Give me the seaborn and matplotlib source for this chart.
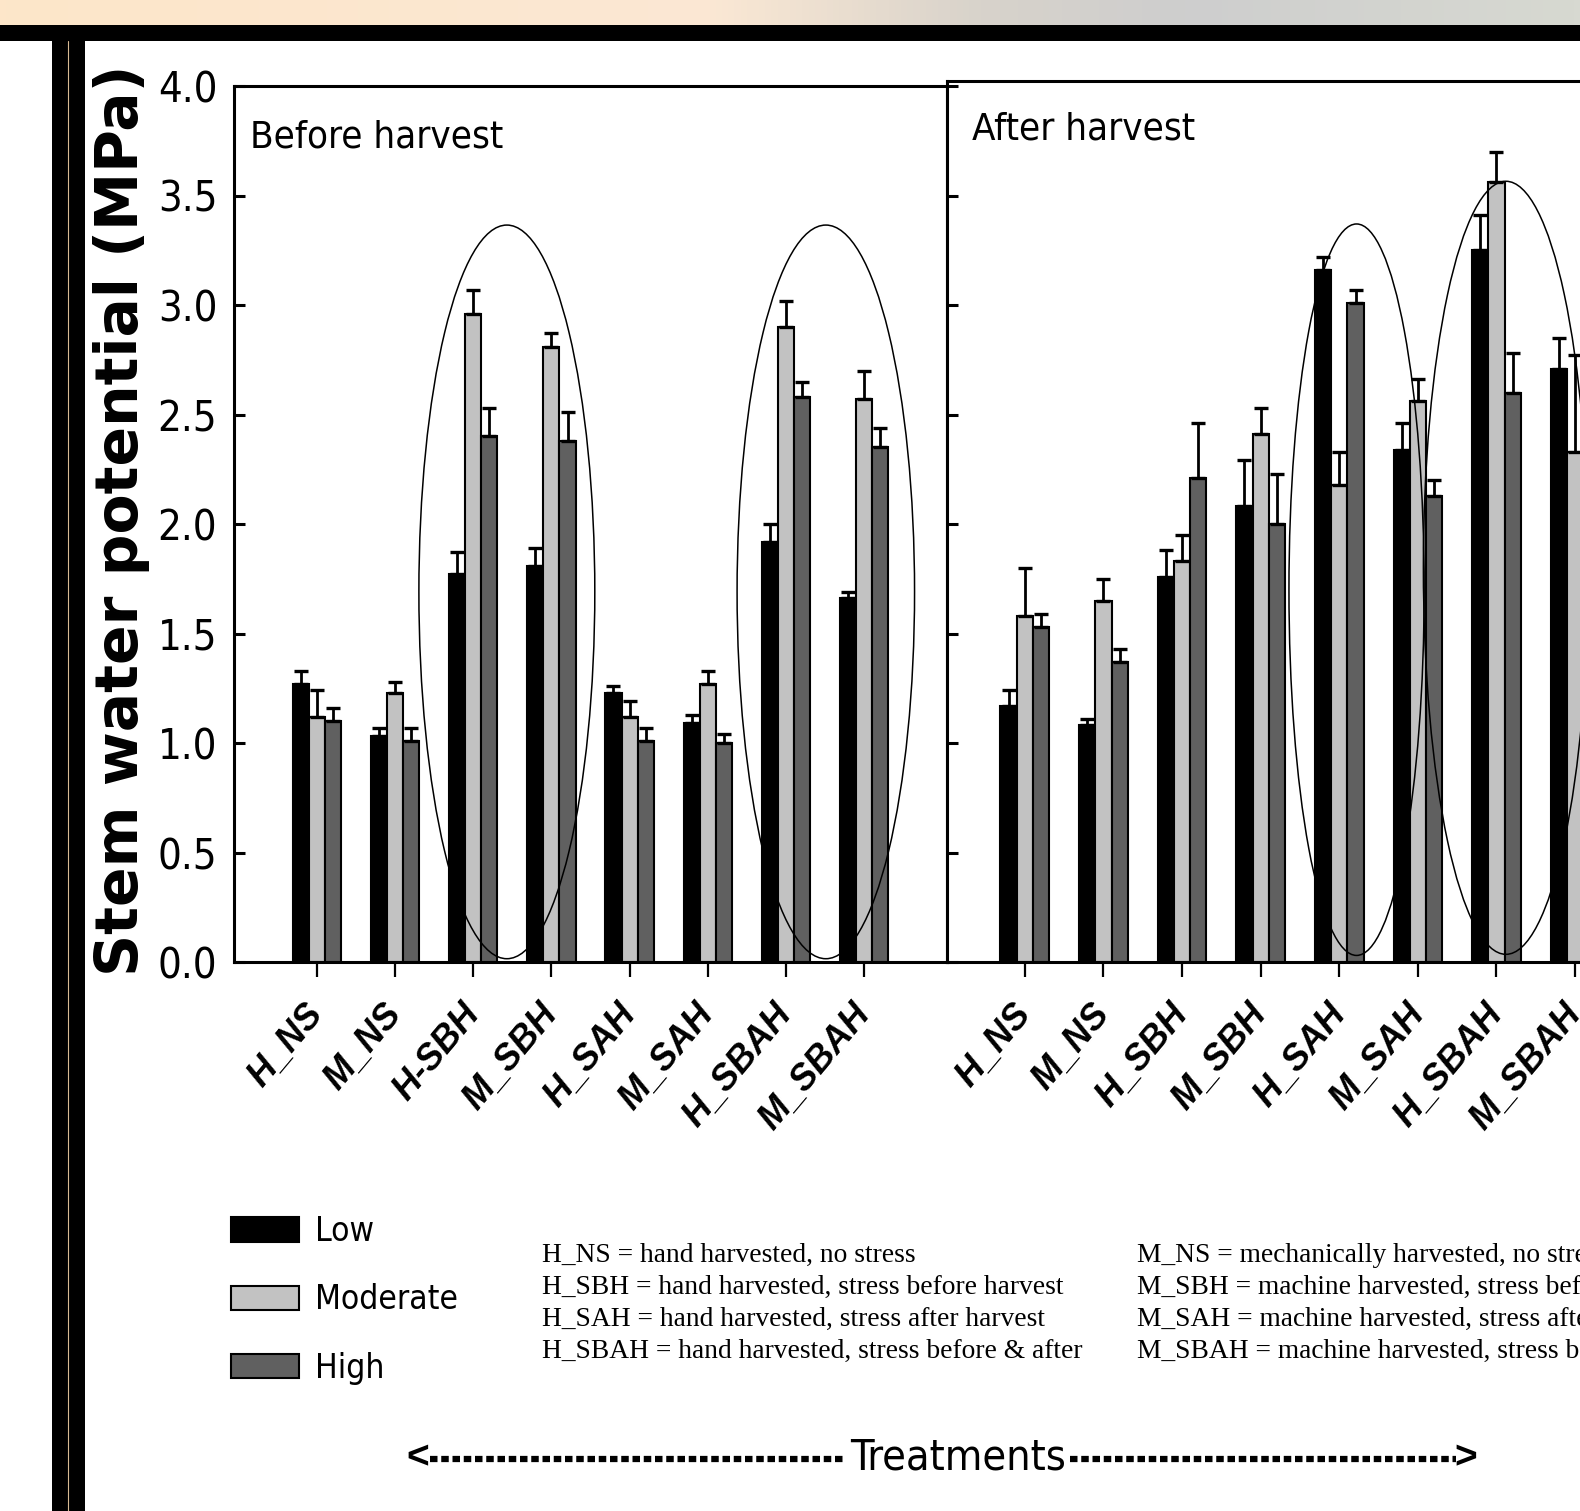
import numpy as np
import pandas as pd
import matplotlib
matplotlib.use('Agg')
import matplotlib.pyplot as plt
import seaborn as sns
from matplotlib import font_manager
from matplotlib.patches import Ellipse, Rectangle
from matplotlib.lines import Line2D
from matplotlib.colors import LinearSegmentedColormap

# ---- data (MPa) ----
treat_before = ['H_NS', 'M_NS', 'H-SBH', 'M_SBH', 'H_SAH', 'M_SAH', 'H_SBAH', 'M_SBAH']
treat_after = ['H_NS', 'M_NS', 'H_SBH', 'M_SBH', 'H_SAH', 'M_SAH', 'H_SBAH', 'M_SBAH']
levels = ['Low', 'Moderate', 'High']

before_low = [1.27, 1.03, 1.77, 1.81, 1.23, 1.09, 1.92, 1.66]
before_mod = [1.12, 1.23, 2.96, 2.81, 1.12, 1.27, 2.90, 2.57]
before_high = [1.10, 1.01, 2.40, 2.38, 1.01, 1.00, 2.58, 2.35]
before_low_err = [0.06, 0.04, 0.10, 0.08, 0.03, 0.04, 0.08, 0.03]
before_mod_err = [0.12, 0.05, 0.11, 0.06, 0.07, 0.06, 0.12, 0.13]
before_high_err = [0.06, 0.06, 0.13, 0.13, 0.06, 0.04, 0.07, 0.09]

after_low = [1.17, 1.08, 1.76, 2.08, 3.16, 2.34, 3.25, 2.71]
after_mod = [1.58, 1.65, 1.83, 2.41, 2.18, 2.56, 3.56, 2.33]
after_high = [1.53, 1.37, 2.21, 2.00, 3.01, 2.13, 2.60, 2.30]
after_low_err = [0.07, 0.03, 0.12, 0.21, 0.06, 0.12, 0.16, 0.14]
after_mod_err = [0.22, 0.10, 0.12, 0.12, 0.15, 0.10, 0.14, 0.44]
after_high_err = [0.06, 0.06, 0.25, 0.23, 0.06, 0.07, 0.18, 0.10]

# circled groups: (x centre, y centre, width, height) in data units
circles_before = [(2.43, 1.69, 2.25, 3.35), (6.51, 1.69, 2.27, 3.35)]
circles_after = [(4.22, 1.70, 1.72, 3.34), (6.12, 1.80, 2.10, 3.53)]

legend_defs_left = ['H_NS = hand harvested, no stress',
                    'H_SBH = hand harvested, stress before harvest',
                    'H_SAH = hand harvested, stress after harvest',
                    'H_SBAH = hand harvested, stress before & after']
legend_defs_right = ['M_NS = mechanically harvested, no stress',
                     'M_SBH = machine harvested, stress before harvest',
                     'M_SAH = machine harvested, stress after harvest',
                     'M_SBAH = machine harvested, stress before & after']

palette = {'Low': '#000000', 'Moderate': '#c2c2c2', 'High': '#606060'}

sns.set_theme(style='white')
plt.rcParams['font.family'] = ['Liberation Sans', 'DejaVu Sans']
plt.rcParams.update({'text.color': 'black', 'axes.labelcolor': 'black',
                     'xtick.color': 'black', 'ytick.color': 'black'})

names = {f.name for f in font_manager.fontManager.ttflist}
NARROW = 'Liberation Sans Narrow' if 'Liberation Sans Narrow' in names else 'DejaVu Sans'
STRETCH = 'normal' if NARROW == 'Liberation Sans Narrow' else 'condensed'

W, H = 1580, 1511
def fx(px):
    return px / W
def fy(py):
    return 1 - py / H

fig = plt.figure(figsize=(W / 100, H / 100), dpi=100)
fig.patch.set_facecolor('white')

# slide frame decoration
bg = fig.add_axes([0, fy(25), 1, 25 / H])
strip = LinearSegmentedColormap.from_list('strip', [(0, '#fde6c9'), (0.45, '#fbe8d4'),
                                                    (0.62, '#d8d3cb'), (0.75, '#cecece'),
                                                    (1, '#d7d9d1')])
bg.imshow(np.linspace(0, 1, 512)[None, :], aspect='auto', cmap=strip, extent=[0, 1, 0, 1])
bg.axis('off')
fig.patches.append(Rectangle((0, fy(41)), 1, 16 / H, transform=fig.transFigure,
                             fc='black', ec='none'))
fig.patches.append(Rectangle((fx(52), 0), 33 / W, fy(25), transform=fig.transFigure,
                             fc='black', ec='none'))
fig.add_artist(Line2D([fx(68), fx(68)], [0, fy(41)], transform=fig.transFigure,
                      color='#d9bb94', lw=0.8))

ax1 = fig.add_axes([fx(234), fy(962), 713 / W, 876 / H])
ax2 = fig.add_axes([fx(947), fy(962), 713 / W, 881 / H])

panels = [
    (ax1, treat_before, [before_low, before_mod, before_high],
     [before_low_err, before_mod_err, before_high_err], circles_before, (-1.06, 8.06), 4.0),
    (ax2, treat_after, [after_low, after_mod, after_high],
     [after_low_err, after_mod_err, after_high_err], circles_after, (-0.99, 8.08), 4.0 * 881 / 876),
]

for ax, treats, vals, errs, circles, xlim, ytop in panels:
    df = pd.DataFrame({
        'treatment': treats * 3,
        'level': [lv for lv in levels for _ in treats],
        'value': vals[0] + vals[1] + vals[2],
    })
    sns.barplot(data=df, x='treatment', y='value', hue='level', order=treats,
                hue_order=levels, palette=palette, saturation=1, width=0.62,
                edgecolor='black', linewidth=1.5, errorbar=None, legend=False, ax=ax)
    for cont, err in zip(ax.containers, errs):
        xs = [b.get_x() + b.get_width() / 2 for b in cont]
        ys = [b.get_height() for b in cont]
        ax.errorbar(xs, ys, yerr=[np.zeros(len(err)), err], fmt='none', ecolor='black',
                    elinewidth=2, capsize=5, capthick=2.4, zorder=4)
    for cx, cy, w, h in circles:
        ax.add_patch(Ellipse((cx, cy), w, h, fill=False, ec='black', lw=1.1, zorder=5))
    ax.set_xlim(*xlim)
    ax.set_ylim(0, ytop)
    ax.set_xlabel('')
    ax.set_ylabel('')
    ax.set_xticks(range(len(treats)))
    ax.set_xticklabels(treats, rotation=50, ha='right', va='center', rotation_mode='anchor',
                       fontsize=26, fontweight='bold', fontstyle='italic', color='black')
    ax.tick_params(axis='x', direction='out', length=11, width=1.6, pad=22, bottom=True)
    ax.set_yticks(np.arange(0, 4.01, 0.5))
    ax.tick_params(axis='y', direction='in', length=8, width=2.2, left=True)
    for s in ax.spines.values():
        s.set_visible(True)
        s.set_color('black')
        s.set_linewidth(2.2)

ax1.set_yticklabels([f'{v:.1f}' for v in np.arange(0, 4.01, 0.5)], fontfamily=NARROW,
                    fontstretch=STRETCH, fontsize=30, color='black')
ax1.tick_params(axis='y', pad=12)
ax2.tick_params(axis='y', labelleft=False)

fig.text(fx(121), fy(520), 'Stem water potential (MPa)', rotation=90, ha='center',
         va='center', fontsize=42, fontweight='bold', family='DejaVu Sans', color='black')
fig.text(fx(250), fy(138), 'Before harvest', fontsize=27.5, family=NARROW,
         fontstretch=STRETCH, va='center', color='black')
fig.text(fx(972), fy(129), 'After harvest', fontsize=27.5, family=NARROW,
         fontstretch=STRETCH, va='center', color='black')

handles = [c[0] for c in ax1.containers]
leg = fig.legend(handles, levels, loc='upper left', bbox_to_anchor=(fx(231), fy(1215)),
                 frameon=False, borderpad=0, borderaxespad=0, handlelength=2.04,
                 handleheight=0.75, handletextpad=0.48, labelspacing=1.06,
                 prop={'family': NARROW, 'stretch': STRETCH, 'size': 24})
for t in leg.get_texts():
    t.set_color('black')

for i, (tl, tr) in enumerate(zip(legend_defs_left, legend_defs_right)):
    y = fy(1255 + 32 * i)
    fig.text(fx(542), y, tl, family='Liberation Serif', fontsize=19.8, va='center', color='black')
    fig.text(fx(1137), y, tr, family='Liberation Serif', fontsize=19.8, va='center', color='black')

fig.text(fx(958), fy(1458), 'Treatments', ha='center', va='center', fontsize=31,
         family=NARROW, fontstretch=STRETCH, color='black')
fig.text(fx(418), fy(1458), '<', ha='center', va='center', fontsize=28, fontweight='bold')
fig.text(fx(1466), fy(1458), '>', ha='center', va='center', fontsize=28, fontweight='bold')
for x0, x1 in [(430, 846), (1070, 1456)]:
    fig.add_artist(Line2D([fx(x0), fx(x1)], [fy(1459), fy(1459)], transform=fig.transFigure,
                          color='black', lw=4.5, linestyle=(0, (1.2, 0.6)),
                          solid_capstyle='butt', dash_capstyle='butt'))

fig.savefig('out.png', dpi=100)
